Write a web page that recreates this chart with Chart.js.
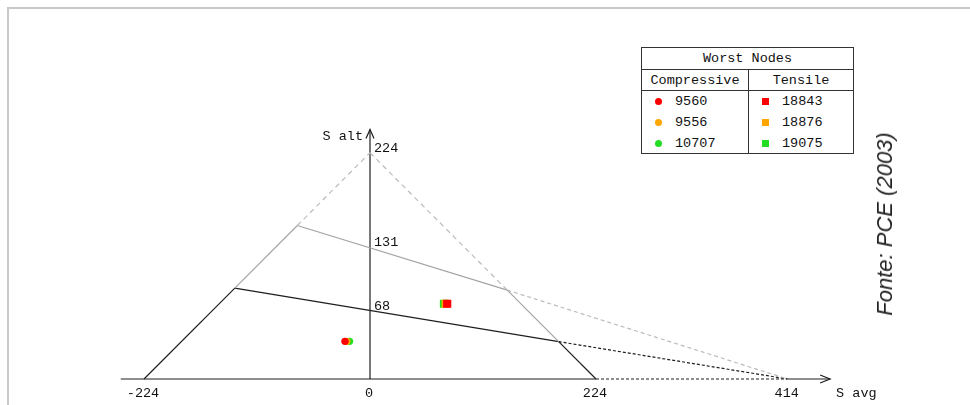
<!DOCTYPE html>
<html>
<head>
<meta charset="utf-8">
<script src="https://cdn.jsdelivr.net/npm/chart.js@4.4.1/dist/chart.umd.min.js"></script>
<style>
  html, body { margin: 0; padding: 0; background: #fff; }
  #wrap { position: relative; width: 970px; height: 405px; overflow: hidden; }
  #frame { position: absolute; left: 7px; top: 7px; width: 1000px; height: 500px;
    border-left: 2px solid #c8c8c8; border-top: 2px solid #c8c8c8; }
  canvas { position: absolute; left: 0; top: 0; }
  #nodes { position: absolute; left: 641px; top: 47px; width: 211px; height: 105px;
    border: 1px solid #333; background: #fff; color: #111;
    font: 13.5px "Liberation Mono", monospace; }
  #nodes .title { height: 21px; line-height: 22px; text-align: center; border-bottom: 1px solid #333; }
  #nodes .cols { display: flex; }
  #nodes .col { width: 106px; }
  #nodes .col + .col { border-left: 1px solid #333; flex: 1; }
  #nodes .head { height: 20px; line-height: 21px; text-align: center; border-bottom: 1px solid #333; }
  #nodes .row { height: 21px; line-height: 21px; position: relative; padding-left: 33px; }
  #nodes .row:first-of-type { margin-top: 1px; }
  #nodes .mk { position: absolute; left: 13px; top: 7px; width: 7px; height: 7px; }
  #nodes .dot { border-radius: 50%; }
  #source { position: absolute; left: 885px; top: 224px; transform: translate(-50%, -50%) rotate(-90deg);
    white-space: nowrap; font: italic 22px "Liberation Sans", Arial, sans-serif; color: #222; }
</style>
</head>
<body>
<div id="wrap">
  <div id="frame"></div>
  <canvas id="chart" width="970" height="405"></canvas>
  <div id="nodes">
    <div class="title">Worst Nodes</div>
    <div class="cols">
      <div class="col" id="compCol"><div class="head">Compressive</div></div>
      <div class="col" id="tensCol"><div class="head">Tensile</div></div>
    </div>
  </div>
  <div id="source">Fonte: PCE (2003)</div>
</div>
<script>
'use strict';

// worst nodes (red, orange, green)
var compNodes = ['9560', '9556', '10707'];
var tensNodes = ['18843', '18876', '19075'];
var nodeColors = ['#ff0000', '#ffa500', '#22dd22'];
var compAvg = [-24.8, -23, -20.3];
var compAlt = [37.3, 37.3, 37.3];
var tensAvg = [76.5, 75, 73.3];
var tensAlt = [74.5, 74.5, 74.5];

// axis tick values
var avgTicks = [-224, 0, 224, 414];
var altTicks = [224, 131, 68];

// envelope vertices
var outerLeftDark = [[-224, 0], [-134, 90]];
var outerLeftLight = [[-134, 90], [-72, 152]];
var outerLeftDash = [[-72, 152], [0, 224]];
var outerRightDash = [[0, 224], [136, 88]];
var outerRightLight = [[136, 88], [187, 37]];
var outerRightDark = [[187, 37], [224, 0]];
var limit131 = [[-72, 152], [136, 88]];
var limit131Dash = [[136, 88], [414, 0]];
var limit68 = [[-134, 90], [187, 37]];
var limit68Dash = [[187, 37], [414, 0]];
var avgAxis = [[-247, 0], [224, 0]];
var avgAxisDash = [[224, 0], [414, 0]];
var avgAxisEnd = [[414, 0], [456, 0]];
var altAxis = [[0, 0], [0, 247]];

var DARK = '#1e1e1e';
var LIGHT = '#a4a4a4';
var PALE = '#bcbcbc';

function pts(list) {
  return list.map(function (p) {
    return { x: p[0], y: p[1] };
  });
}

function seg(list, color, dash) {
  return {
    type: 'line',
    data: pts(list),
    borderColor: color,
    borderWidth: 1.2,
    borderDash: dash || [],
    pointRadius: 0,
    fill: false,
    tension: 0
  };
}

function nodePoint(x, y, color, style, r) {
  return {
    type: 'scatter',
    data: [{ x: x, y: y }],
    backgroundColor: color,
    borderWidth: 0,
    pointStyle: style,
    pointRadius: r
  };
}

// legend table
function fillCol(id, names, dot) {
  var col = document.getElementById(id);
  names.forEach(function (n, i) {
    var row = document.createElement('div');
    row.className = 'row';
    var mk = document.createElement('span');
    mk.className = 'mk' + (dot ? ' dot' : '');
    mk.style.background = nodeColors[i];
    row.appendChild(mk);
    row.appendChild(document.createTextNode(n));
    col.appendChild(row);
  });
}
fillCol('compCol', compNodes, true);
fillCol('tensCol', tensNodes, false);

var datasets = [];
// red on top: lower index is drawn last
compNodes.forEach(function (n, i) {
  datasets.push(nodePoint(compAvg[i], compAlt[i], nodeColors[i], 'circle', 3.7));
});
tensNodes.forEach(function (n, i) {
  datasets.push(nodePoint(tensAvg[i], tensAlt[i], nodeColors[i], 'rect', 5.8));
});
datasets.push(
  seg(outerLeftDark, DARK),
  seg(outerLeftLight, LIGHT),
  seg(outerLeftDash, PALE, [5, 4]),
  seg(outerRightDash, PALE, [5, 4]),
  seg(outerRightLight, LIGHT),
  seg(outerRightDark, DARK),
  seg(limit131, LIGHT),
  seg(limit131Dash, PALE, [4, 3]),
  seg(limit68, DARK),
  seg(limit68Dash, DARK, [3, 2]),
  seg(avgAxis, DARK),
  seg(avgAxisDash, DARK, [3, 2]),
  seg(avgAxisEnd, DARK),
  seg(altAxis, DARK)
);

var axisDecor = {
  id: 'axisDecor',
  afterDatasetsDraw: function (chart) {
    var ctx = chart.ctx;
    var sx = chart.scales.x;
    var sy = chart.scales.y;
    var x0 = sx.getPixelForValue(0);
    var y0 = sy.getPixelForValue(0);
    var xEnd = sx.getPixelForValue(avgAxisEnd[1][0]);
    var yEnd = sy.getPixelForValue(altAxis[1][1]);

    ctx.save();
    ctx.strokeStyle = DARK;
    ctx.lineWidth = 1.2;
    ctx.beginPath();
    ctx.moveTo(xEnd - 10, y0 - 4);
    ctx.lineTo(xEnd, y0);
    ctx.lineTo(xEnd - 10, y0 + 4);
    ctx.moveTo(x0 - 4, yEnd + 9);
    ctx.lineTo(x0, yEnd);
    ctx.lineTo(x0 + 4, yEnd + 9);
    ctx.stroke();

    ctx.font = '13.5px "Liberation Mono", monospace';
    ctx.fillStyle = '#111';
    ctx.textBaseline = 'middle';
    ctx.textAlign = 'center';
    avgTicks.forEach(function (v) {
      ctx.fillText(String(v), sx.getPixelForValue(v) - 1, y0 + 14);
    });
    ctx.textAlign = 'left';
    altTicks.forEach(function (v) {
      ctx.fillText(String(v), x0 + 4, sy.getPixelForValue(v) - 4);
    });
    ctx.fillText('S avg', xEnd + 6, y0 + 14);
    ctx.textAlign = 'right';
    ctx.fillText('S alt', x0 - 7, yEnd + 7);
    ctx.restore();
  }
};

new Chart(document.getElementById('chart'), {
  data: { datasets: datasets },
  options: {
    responsive: false,
    animation: false,
    layout: { padding: { left: 117.75, right: 135.86, top: 126.5, bottom: 3.64 } },
    plugins: { legend: { display: false }, tooltip: { enabled: false } },
    scales: {
      x: { type: 'linear', min: -250, max: 460, display: false },
      y: { type: 'linear', min: -20, max: 250, display: false }
    }
  },
  plugins: [axisDecor]
});
</script>
</body>
</html>
